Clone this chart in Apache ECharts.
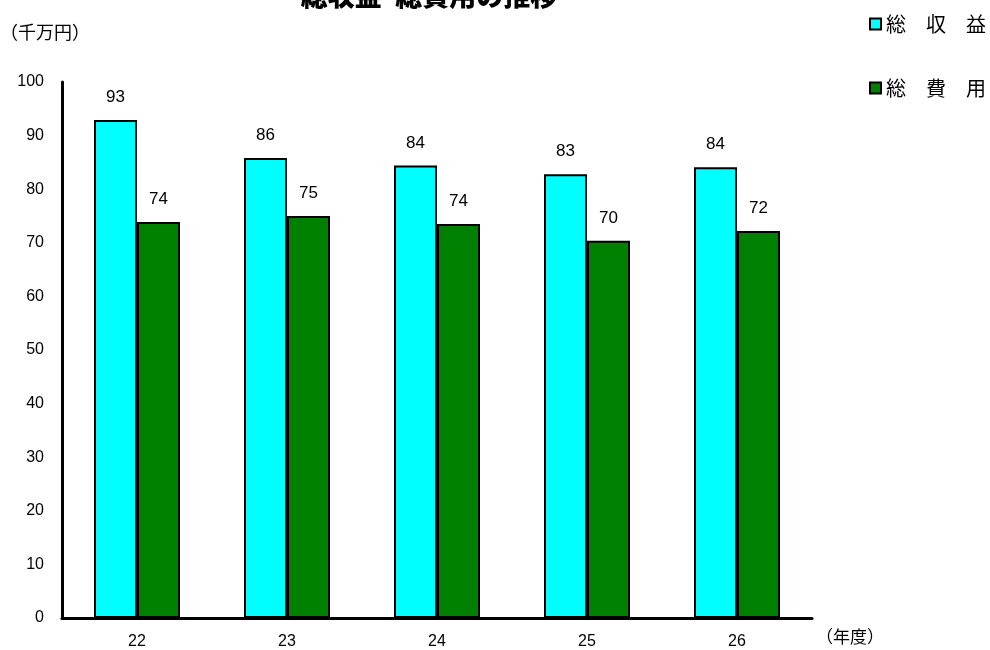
<!DOCTYPE html>
<html><head><meta charset="utf-8">
<script src="https://cdn.jsdelivr.net/npm/echarts@6/dist/echarts.min.js"></script>
<style>html,body{margin:0;padding:0;background:#fff}#c{width:990px;height:650px}</style>
</head><body><div id="c"></div>
<script>
const categories = ['22','23','24','25','26'];
const revenue = [92.9, 85.8, 84.4, 82.8, 84.1];
const expense = [73.9, 75.0, 73.5, 70.4, 72.2];
const yTicks = [0,10,20,30,40,50,60,70,80,90,100];
const titleText = '総収益･総費用の推移';
const yUnit = '（千万円）';
const xUnit = '（年度）';
const revName = '総　収　益';
const expName = '総　費　用';

const F = '"Liberation Sans", Arial, "Noto Sans CJK JP", sans-serif';
const J = '"Noto Sans CJK JP", sans-serif';
const chart = echarts.init(document.getElementById('c'));
const lbl = {show:true, position:'top', distance:14, color:'#000', fontSize:17, fontFamily:F,
  formatter: p => String(Math.round(p.value))};
chart.setOption({
  animation:false,
  grid:{left:62, right:178, top:82, bottom:32},
  legend:{orient:'vertical', left:864, top:9, itemWidth:11, itemHeight:11, itemGap:44, itemSpacing:4,
    textStyle:{fontSize:20, color:'#000', fontFamily:J}, icon:'rect',
    data:[revName, expName]},
  graphic:[
    {type:'text', x:429, y:-4, style:{text:titleText, fontSize:27, fontWeight:900, fontFamily:J, fill:'#000', textAlign:'center', textVerticalAlign:'middle'}},
    {type:'text', x:0, y:32, style:{text:yUnit, fontSize:18, fontFamily:J, fill:'#000', textVerticalAlign:'middle'}},
    {type:'text', x:816, y:637, style:{text:xUnit, fontSize:17, fontFamily:J, fill:'#000', textVerticalAlign:'middle'}}
  ],
  xAxis:{type:'category', data:categories,
    axisLine:{lineStyle:{color:'#000', width:3}},
    axisTick:{show:false},
    axisLabel:{color:'#000', fontSize:16, fontFamily:F, margin:16}},
  yAxis:{type:'value', min:0, max:100, interval:10,
    axisLine:{show:true, lineStyle:{color:'#000', width:3}},
    axisTick:{show:false}, splitLine:{show:false},
    axisLabel:{color:'#000', fontSize:16, fontFamily:F, margin:18}},
  series:[
    {name:revName, type:'bar', data:revenue, barWidth:43, barGap:'0%',
      itemStyle:{color:'#00FFFF', borderColor:'#000', borderWidth:2}, label:lbl},
    {name:expName, type:'bar', data:expense, barWidth:43,
      itemStyle:{color:'#008000', borderColor:'#000', borderWidth:2}, label:lbl}
  ]
});
</script></body></html>
